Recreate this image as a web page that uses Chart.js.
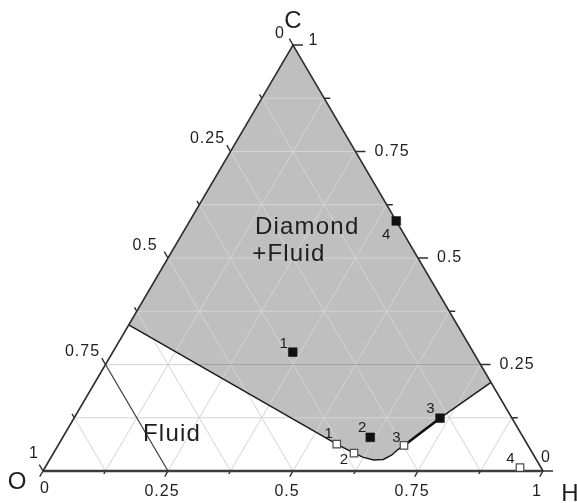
<!DOCTYPE html>
<html>
<head>
<meta charset="utf-8">
<script src="https://cdn.jsdelivr.net/npm/chart.js@4/dist/chart.umd.min.js"></script>
<style>
  html, body { margin: 0; padding: 0; background: #ffffff; }
  #wrap { width: 577px; height: 503px; position: relative; }
</style>
</head>
<body>
<div id="wrap"><canvas id="c"></canvas></div>
<script>
// O–H–C ternary diagram. Every composition is given by its H and C fractions; O = 1 - H - C.
const tickValues = [0, 0.25, 0.5, 0.75, 1];
const minorTickValues = [0.125, 0.375, 0.625, 0.875];
const gridValues = [0.125, 0.25, 0.375, 0.5, 0.625, 0.75, 0.875];

const sampleLabels = ['1', '2', '3', '4'];
// filled squares
const solidH = [0.360, 0.615, 0.732, 0.413];
const solidC = [0.279, 0.079, 0.124, 0.587];
// open squares
const openH = [0.556, 0.601, 0.692, 0.950];
const openC = [0.063, 0.042, 0.060, 0.008];

// Diamond + Fluid / Fluid boundary, from the O–C edge across to the H–C edge
const boundaryH = [0.000, 0.556, 0.601, 0.625, 0.648, 0.667, 0.679, 0.685, 0.692, 0.732, 0.792];
const boundaryC = [0.343, 0.063, 0.042, 0.032, 0.026, 0.027, 0.038, 0.051, 0.060, 0.124, 0.208];

// ternary (H, C) -> cartesian (x, y) on a unit triangle with O at (0,0), H at (1,0), C at (0.5,1)
const toXY = (h, c) => ({ x: h + c / 2, y: c });
const GAP = { x: null, y: null };

// grid lines of constant C, H and O
const gridPts = [];
gridValues.forEach(s => {
  gridPts.push(toXY(0, s), toXY(1 - s, s), GAP);      // C = s
  gridPts.push(toXY(s, 0), toXY(s, 1 - s), GAP);      // H = s
  gridPts.push(toXY(1 - s, 0), toXY(0, 1 - s), GAP);  // O = s
});

// the O = 0.75 line is drawn darker
const o75 = [toXY(0.25, 0), toXY(0, 0.25)];

// C = 0.25 line inside the diamond field: starts where it meets the first boundary segment
const cLine = 0.25;
const tCross = (boundaryC[0] - cLine) / (boundaryC[0] - boundaryC[1]);
const hCross = boundaryH[0] + tCross * (boundaryH[1] - boundaryH[0]);
const c25 = [toXY(hCross, cLine), toXY(1 - cLine, cLine)];

// axis ticks, drawn outwards as extensions of the grid directions
const tickPts = [];
const addTicks = (vals, lenB, lenL, lenR) => {
  vals.forEach(v => {
    tickPts.push(toXY(v, 0), toXY(v, -lenB), GAP);                       // bottom (H)
    tickPts.push(toXY(0, 1 - v), toXY(-lenL, 1 - v + lenL), GAP);         // left (O)
    tickPts.push(toXY(1 - v, v), toXY(1 - v + lenR, v), GAP);             // right (C)
  });
};
addTicks(tickValues, 0.013, 0.015, 0.02);
addTicks(minorTickValues, 0.007, 0.009, 0.012);

// shaded diamond + fluid field: boundary then up to the C apex
const fieldPts = boundaryH.map((h, i) => toXY(h, boundaryC[i]));
fieldPts.push(toXY(0, 1));

const boundaryPts = boundaryH.map((h, i) => toXY(h, boundaryC[i]));
const boldSeg = [toXY(openH[2], openC[2]), toXY(solidH[2], solidC[2])];

const solidPts = solidH.map((h, i) => toXY(h, solidC[i]));
const openPts = openH.map((h, i) => toXY(h, openC[i]));

const lineDefaults = { type: 'line', pointRadius: 0, fill: false, tension: 0, spanGaps: false, clip: false };

const datasets = [
  { ...lineDefaults, label: 'field', data: fieldPts, fill: 'shape', backgroundColor: '#bfbfbf', borderWidth: 0, borderColor: 'rgba(0,0,0,0)', order: 10 },
  { ...lineDefaults, label: 'grid', data: gridPts, borderColor: '#d4d4d4', borderWidth: 1, order: 9 },
  { ...lineDefaults, label: 'c25', data: c25, borderColor: '#a4a4a4', borderWidth: 1.2, order: 8 },
  { ...lineDefaults, label: 'o75', data: o75, borderColor: '#4a4a4a', borderWidth: 1.3, order: 8 },
  { ...lineDefaults, label: 'boundary', data: boundaryPts, borderColor: '#1c1c1c', borderWidth: 1.5, borderJoinStyle: 'round', order: 7 },
  { ...lineDefaults, label: 'bold', data: boldSeg, borderColor: '#111111', borderWidth: 2.6, order: 6 },
  { ...lineDefaults, label: 'sides', data: [toXY(0, 0), toXY(0, 1), toXY(1, 0)], borderColor: '#2e2e2e', borderWidth: 1.6, order: 5 },
  { ...lineDefaults, label: 'base', data: [toXY(0, 0), toXY(1, 0)], borderColor: '#3c3c3c', borderWidth: 2.6, order: 5 },
  { ...lineDefaults, label: 'ticks', data: tickPts, borderColor: '#2e2e2e', borderWidth: 1.4, order: 5 },
  { type: 'scatter', label: 'open', data: openPts, pointStyle: 'rect', pointRadius: 5.3, backgroundColor: '#ffffff', borderColor: '#4d4d4d', borderWidth: 1.2, order: 2 },
  { type: 'scatter', label: 'solid', data: solidPts, pointStyle: 'rect', pointRadius: 6.2, backgroundColor: '#111111', borderColor: '#111111', borderWidth: 0.5, order: 1 }
];

const FONT = '"Liberation Sans", Arial, sans-serif';
// label offsets (px) beside each marker
const solidLabelOffsets = [[-9, -8], [-8, -9], [-9.5, -9], [-10, 14]];
const openLabelOffsets = [[-8, -10.5], [-10, 7], [-7.5, -8], [-9.5, -9]];

const textPlugin = {
  id: 'ternaryText',
  afterDatasetsDraw(chart) {
    const { ctx, scales } = chart;
    const P = (h, c) => {
      const q = toXY(h, c);
      return [scales.x.getPixelForValue(q.x), scales.y.getPixelForValue(q.y)];
    };
    const text = (s, x, y, size, align = 'center', spacing = '0px') => {
      ctx.font = size + 'px ' + FONT;
      if ('letterSpacing' in ctx) ctx.letterSpacing = spacing;
      ctx.textAlign = align;
      ctx.textBaseline = 'middle';
      ctx.fillText(s, x, y);
    };
    ctx.save();
    ctx.fillStyle = '#1e1e1e';

    // bottom axis (H)
    tickValues.forEach(v => {
      const [x, y] = P(v, 0);
      if (v === 0) text('0', x + 2, y + 18, 16, 'center', '1px');
      else text(String(v), x - 6, y + 21, 16, 'center', '1px');
    });
    // left axis (O)
    tickValues.forEach(v => {
      const [x, y] = P(0, 1 - v);
      if (v === 0) text('0', x - 13, y - 11, 16, 'center', '1px');
      else if (v === 1) text('1', x - 9, y - 17, 16, 'center', '1px');
      else text(String(v), x - 23, y - 12.5, 16, 'center', '1px');
    });
    // right axis (C)
    tickValues.forEach(v => {
      const [x, y] = P(1 - v, v);
      if (v === 1) text('1', x + 15.5, y - 4, 16, 'left', '1px');
      else if (v === 0) text('0', x + 3, y - 13, 16, 'center', '1px');
      else text(String(v), x + 19, y, 16, 'left', '1px');
    });

    // vertex names
    let [x, y] = P(0, 0);
    text('O', x - 26, y + 11, 24);
    [x, y] = P(1, 0);
    text('H', x + 27, y + 23, 24);
    [x, y] = P(0, 1);
    text('C', x, y - 24, 24);

    // field names
    ctx.textBaseline = 'alphabetic';
    const field = (s, h, c) => {
      const q = toXY(h, c);
      ctx.font = '24px ' + FONT;
      if ('letterSpacing' in ctx) ctx.letterSpacing = '1.2px';
      ctx.textAlign = 'left';
      ctx.textBaseline = 'alphabetic';
      ctx.fillText(s, scales.x.getPixelForValue(q.x), scales.y.getPixelForValue(q.y));
    };
    field('Diamond', 0.146, 0.556);
    field('+Fluid', 0.172, 0.493);
    field('Fluid', 0.165, 0.070);

    // sample numbers
    solidLabelOffsets.forEach((o, i) => {
      const [px, py] = P(solidH[i], solidC[i]);
      text(sampleLabels[i], px + o[0], py + o[1], 15);
    });
    openLabelOffsets.forEach((o, i) => {
      const [px, py] = P(openH[i], openC[i]);
      text(sampleLabels[i], px + o[0], py + o[1], 15);
    });
    ctx.restore();
  }
};

new Chart(document.getElementById('c'), {
  type: 'scatter',
  data: { datasets },
  options: {
    responsive: true,
    maintainAspectRatio: false,
    animation: false,
    events: [],
    layout: { padding: { left: 43, right: 34, top: 45, bottom: 32 } },
    scales: {
      x: { type: 'linear', min: 0, max: 1, display: false },
      y: { type: 'linear', min: 0, max: 1, display: false }
    },
    plugins: { legend: { display: false }, tooltip: { enabled: false } }
  },
  plugins: [textPlugin]
});
</script>
</body>
</html>
